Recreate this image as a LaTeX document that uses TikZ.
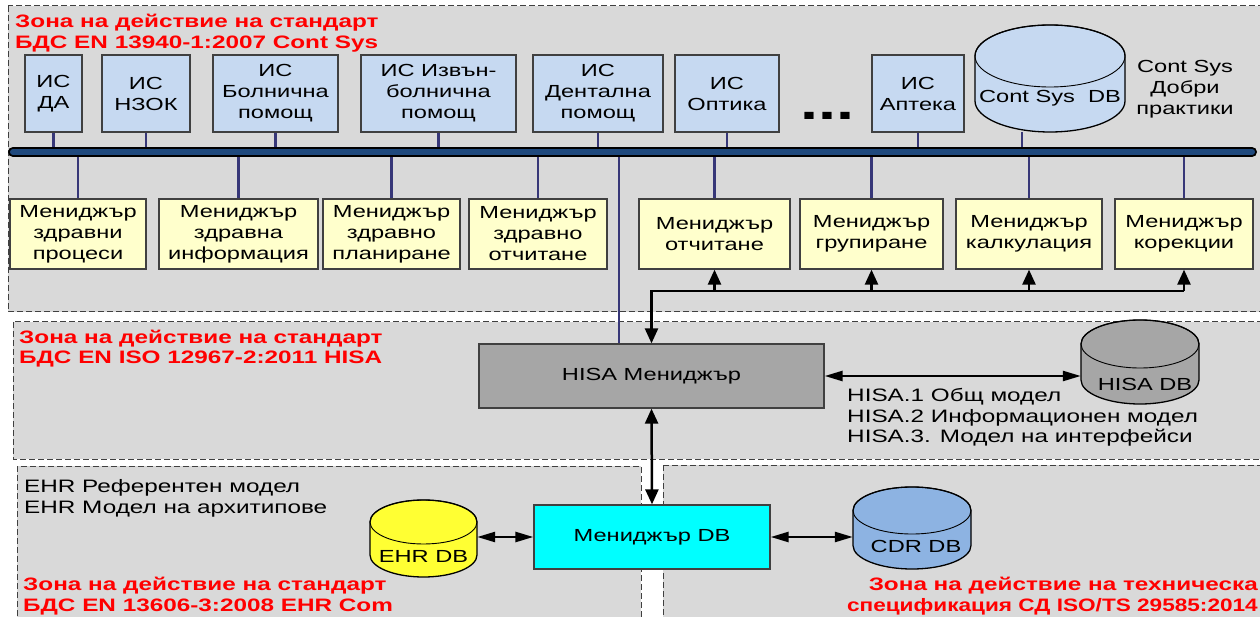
\documentclass[tikz,border=0pt]{standalone}
\usepackage{graphicx}
\usepackage{fontspec}
\setmainfont[FakeStretch=1.35]{Liberation Sans}
\usepackage{tikz}
\usetikzlibrary{arrows.meta,calc}
\definecolor{zonegrey}{RGB}{217,217,217}
\definecolor{edgegrey}{RGB}{64,64,64}
\definecolor{zonered}{RGB}{255,0,0}
\definecolor{isblue}{RGB}{198,217,241}
\definecolor{mgryellow}{RGB}{255,255,204}
\definecolor{hisagrey}{RGB}{166,166,166}
\definecolor{dbcyan}{RGB}{0,255,255}
\definecolor{cdrblue}{RGB}{141,179,226}
\definecolor{ehryellow}{RGB}{255,255,51}
\definecolor{stubblue}{RGB}{55,55,120}
\definecolor{busblue}{RGB}{31,73,125}

% fill, left, right, top, bottom, y radius
\newcommand{\dbcylinder}[6]{%
  \pgfmathsetmacro{\cylrx}{(#3-#2)/2}
  \pgfmathsetmacro{\cylcx}{(#3+#2)/2}
  \filldraw[fill=#1,draw=black,line width=1.3pt]
    (#2,#4+#6) -- (#2,#5-#6)
    arc[start angle=180,end angle=0,x radius=\cylrx,y radius=#6]
    -- (#3,#4+#6)
    arc[start angle=0,end angle=-180,x radius=\cylrx,y radius=#6] -- cycle;
  \draw[line width=0.9pt] (\cylcx,#4+#6) ellipse[x radius=\cylrx,y radius=#6];
}

\begin{document}
\begin{tikzpicture}[x=1pt,y=-1pt,
  font=\fontsize{17.5}{21}\selectfont,
  zone/.style={fill=zonegrey,draw=edgegrey,line width=1pt,dash pattern=on 6pt off 3pt},
  zonetitle/.style={text=zonered,font=\fontsize{18}{20.5}\selectfont\bfseries,align=left,inner sep=0pt},
  note/.style={align=left,inner sep=0pt,font=\fontsize{18}{20.5}\selectfont},
  isbox/.style={draw=edgegrey,fill=isblue,line width=1.3pt,align=center,inner sep=0pt,minimum height=77pt},
  mgrbox/.style={draw=edgegrey,fill=mgryellow,line width=1.3pt,align=center,inner sep=0pt,minimum height=70pt},
  dblabel/.style={inner sep=0pt,minimum height=20pt},
  stub/.style={stubblue,line width=2.3pt},
  link/.style={black,line width=2.5pt},
  vlink/.style={link,>={Triangle[length=15pt,width=13pt]}},
  hlink/.style={link,>={Triangle[length=18pt,width=10pt]}}]

\useasboundingbox (0,0) rectangle (1260,617);
\fill[white] (0,0) rectangle (1260,617);
\clip (0,0) rectangle (1260,617);

%zones
\draw[zone] (8,6) rectangle (1275,312);
\draw[zone] (13,322) rectangle (1275,459);
\draw[zone] (17,466) rectangle (641,630);
\draw[zone] (663,465) rectangle (1275,630);

\node[zonetitle,anchor=west] (titlecs) at (15,33) {Зона на действие на стандарт\\БДС EN 13940-1:2007 Cont Sys};
\node[zonetitle,anchor=west] (titlehisa) at (19,348.5) {Зона на действие на стандарт\\БДС EN ISO 12967-2:2011 HISA};
\node[zonetitle,anchor=west] (titleehr) at (23,596) {Зона на действие на стандарт\\БДС EN 13606-3:2008 EHR Com};
\node[zonetitle,anchor=east,align=right] (titlecdr) at (1258,596) {Зона на действие на техническа\\\scalebox{0.93}[1]{спецификация СД ISO/TS 29585:2014}};

%information systems
\node[isbox,minimum width=57pt] (isda) at (53.5,93.5) {ИС\\ДА};
\node[isbox,minimum width=88pt] (isnzok) at (146,93.5) {ИС\\НЗОК};
\node[isbox,minimum width=125pt] (isboln) at (275.5,93.5) {ИС\\Болнична\\помощ};
\node[isbox,minimum width=155pt] (isizvan) at (438.5,93.5) {ИС Извън-\\болнична\\помощ};
\node[isbox,minimum width=130pt] (isdent) at (598,93.5) {ИС\\Дентална\\помощ};
\node[isbox,minimum width=104pt] (isopt) at (727,93.5) {ИС\\Оптика};
\node[anchor=base west,inner sep=0pt,font=\fontsize{48}{48}\selectfont\bfseries] (isdots) at (800.5,119.5) {...};
\node[isbox,minimum width=92pt] (isapt) at (918,93.5) {ИС\\Аптека};

\dbcylinder{isblue}{975}{1125}{25}{132}{31}
\node[dblabel,minimum width=150pt] (csdb) at (1050,98) {Cont Sys\ \ DB};
\node[align=center,inner sep=0pt] (csnote) at (1185,89) {Cont Sys\\Добри\\практики};

%managers
\node[mgrbox,minimum width=136pt] (mproc) at (78,234) {Мениджър\\здравни\\процеси};
\node[mgrbox,minimum width=159pt] (minfo) at (238.5,234) {Мениджър\\здравна\\информация};
\node[mgrbox,minimum width=137pt] (mplan) at (391.5,234) {Мениджър\\здравно\\планиране};
\node[mgrbox,minimum width=138pt] (mzotch) at (538,234) {Мениджър\\здравно\\отчитане};
\node[mgrbox,minimum width=151pt] (motch) at (714.5,234) {Мениджър\\отчитане};
\node[mgrbox,minimum width=143pt] (mgrup) at (871.5,234) {Мениджър\\групиране};
\node[mgrbox,minimum width=146pt] (mkalk) at (1029,234) {Мениджър\\калкулация};
\node[mgrbox,minimum width=138pt] (mkor) at (1184,234) {Мениджър\\корекции};

%HISA
\node[draw=edgegrey,fill=hisagrey,line width=1.3pt,minimum width=345pt,minimum height=64pt] (hisa) at (651.5,376) {HISA Мениджър};
\dbcylinder{hisagrey}{1081}{1199}{320}{404}{24}
\node[dblabel,minimum width=118pt] (hisadb) at (1140,384) {\hspace{10pt}HISA DB};
\node[note,anchor=west] (hisanote) at (847,417.5) {HISA.1 Общ модел\\HISA.2 Информационен модел\\HISA.3. Модел на интерфейси};

%DB
\node[draw=edgegrey,fill=dbcyan,line width=1.3pt,minimum width=236pt,minimum height=64pt] (dbm) at (652,537) {Мениджър DB};
\dbcylinder{ehryellow}{370}{477}{500}{577}{22}
\node[dblabel,minimum width=107pt] (ehrdb) at (423.5,556) {EHR DB};
\dbcylinder{cdrblue}{853}{971}{487}{569}{23.5}
\node[dblabel,minimum width=118pt] (cdrdb) at (912,546) {\hspace{8pt}CDR DB};
\node[note,anchor=west] (ehrnote) at (24,498.5) {EHR Референтен модел\\EHR Модел на архитипове};

%bus
\coordinate (busL) at (13,152);
\coordinate (busR) at (1252,152);
\coordinate (cstap) at (1022,132);
\coordinate (hisatap) at (619,152);
\foreach \n in {isda,isnzok,isboln,isizvan,isdent,isopt,isapt}
  \draw[stub] (\n.south) -- (\n.south |- busL);
\draw[stub] (cstap) -- (cstap |- busL);
\foreach \n in {mproc,minfo,mplan,mzotch,motch,mgrup,mkalk,mkor}
  \draw[stub] (\n.north) -- (\n.north |- busL);
\draw[stub] (hisatap) -- (hisatap |- hisa.north);
\draw[line width=10pt,line cap=round] (busL) -- (busR);
\draw[busblue,line width=6pt,line cap=round] (busL) -- (busR);

%links
\coordinate (junc) at (651.5,291);
\draw[vlink,<-] (hisa.north) -- (junc) -- (junc -| mkor.south);
\foreach \n in {motch,mgrup,mkalk,mkor}
  \draw[vlink,->] (junc -| \n.south) -- (\n.south);
\draw[vlink,<->] (hisa.south) -- (dbm.north);
\draw[hlink,<->] (hisa.east) -- (hisa.east -| hisadb.west);
\draw[hlink,<->] (ehrdb.east |- dbm.west) -- (dbm.west);
\draw[hlink,<->] (dbm.east) -- (dbm.east -| cdrdb.west);

\end{tikzpicture}
\end{document}
